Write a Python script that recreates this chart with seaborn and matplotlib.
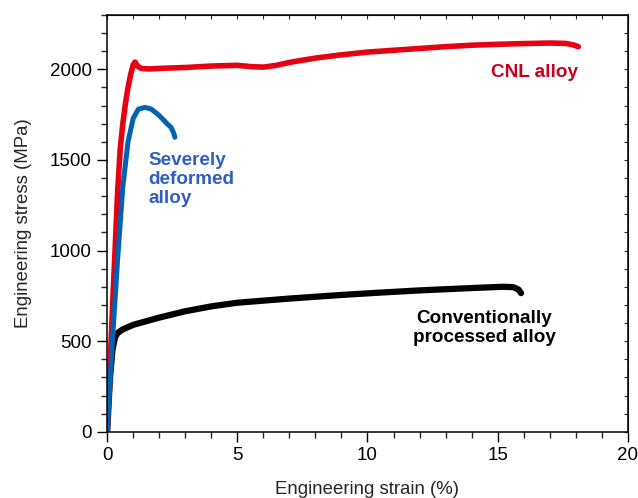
import numpy as np
import pandas as pd
import matplotlib
matplotlib.use('Agg')
import matplotlib.pyplot as plt
import seaborn as sns
from matplotlib.ticker import MultipleLocator

# stress-strain curves
cnl_strain = [0, 0.2, 0.4, 0.5, 0.6, 0.7, 0.8, 0.9, 1.0, 1.07, 1.15, 1.3, 1.6, 2, 3, 4, 5,
              5.5, 6, 6.5, 7, 7.5, 8, 9, 10, 11, 12, 13, 14, 15, 16, 17, 17.6, 17.9, 18.1]
cnl_stress = [0, 670, 1320, 1560, 1700, 1810, 1900, 1970, 2025, 2040, 2020, 2005, 2002, 2005,
              2010, 2018, 2022, 2015, 2012, 2022, 2038, 2050, 2062, 2080, 2095, 2105, 2115,
              2125, 2133, 2138, 2142, 2145, 2143, 2135, 2125]

sd_strain = [0, 0.2, 0.4, 0.6, 0.8, 1.0, 1.2, 1.45, 1.7, 2.0, 2.3, 2.45, 2.55, 2.6]
sd_stress = [0, 500, 950, 1350, 1600, 1730, 1780, 1790, 1780, 1745, 1700, 1680, 1650, 1625]

conv_strain = [0, 0.1, 0.2, 0.3, 0.4, 0.6, 1, 2, 3, 4, 5, 7, 9, 10.5, 12, 14, 15.2, 15.6,
               15.8, 15.9]
conv_stress = [0, 280, 450, 520, 545, 565, 590, 630, 665, 692, 712, 735, 755, 768, 780, 793,
               800, 798, 785, 765]

sns.set_style('ticks')
plt.rcParams['font.family'] = ['Liberation Sans', 'DejaVu Sans']

fig, ax = plt.subplots(figsize=(6.38, 4.98), dpi=100)
fig.subplots_adjust(left=0.168, right=0.984, bottom=0.133, top=0.97)

sns.lineplot(x=conv_strain, y=conv_stress, ax=ax, color='black', lw=4.5, sort=False,
             solid_capstyle='round', solid_joinstyle='round')
sns.lineplot(x=cnl_strain, y=cnl_stress, ax=ax, color='#e50012', lw=4, sort=False,
             solid_capstyle='round', solid_joinstyle='round')
sns.lineplot(x=sd_strain, y=sd_stress, ax=ax, color='#0062b0', lw=3.6, sort=False,
             solid_capstyle='round', solid_joinstyle='round')

ax.set_xlim(0, 20)
ax.set_ylim(0, 2300)
ax.xaxis.set_major_locator(MultipleLocator(5))
ax.xaxis.set_minor_locator(MultipleLocator(1))
ax.yaxis.set_major_locator(MultipleLocator(500))
ax.yaxis.set_minor_locator(MultipleLocator(100))
ax.tick_params(which='major', length=7.5, width=1, labelsize=13.5, colors='black')
ax.tick_params(which='minor', length=4, width=1)

for s in ax.spines.values():
    s.set_linewidth(1.1)
    s.set_color('black')

top = ax.secondary_xaxis('top')
top.xaxis.set_major_locator(MultipleLocator(1))
top.tick_params(direction='in', length=3, width=0.8, labeltop=False)
right = ax.secondary_yaxis('right')
right.yaxis.set_major_locator(MultipleLocator(100))
right.tick_params(direction='in', length=3, width=0.8, labelright=False)

ax.set_xlabel('Engineering strain (%)', fontsize=13.4, labelpad=12)
ax.set_ylabel('Engineering stress (MPa)', fontsize=13.4, labelpad=13)

ax.text(18.1, 1985, 'CNL alloy', color='#c8001e', fontsize=13.6, fontweight='bold',
        ha='right', va='center')
ax.text(1.57, 1390, 'Severely\ndeformed\nalloy', color='#2f5fbf', fontsize=13.6,
        fontweight='bold', ha='left', va='center', linespacing=1.15)
ax.text(14.5, 573, 'Conventionally\nprocessed alloy', color='black', fontsize=13.6,
        fontweight='bold', ha='center', va='center', linespacing=1.15)

plt.savefig('out.png', dpi=100)
